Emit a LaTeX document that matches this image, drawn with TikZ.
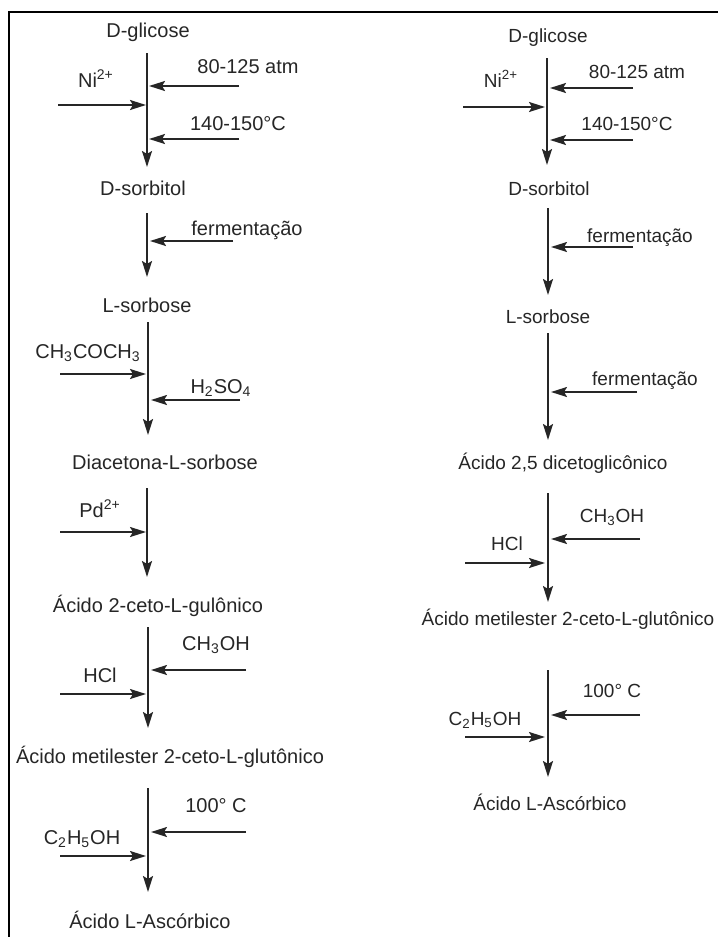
\documentclass[tikz,border=0pt]{standalone}
\usepackage{fontspec}
\setmainfont{Liberation Sans}
\usetikzlibrary{arrows.meta}

\begin{document}
\begin{tikzpicture}[
  x=0.5pt,y=-0.5pt,
  lbl/.style={font=\fontsize{10}{12}\selectfont,text=black!85,inner sep=0pt,text height=7pt,text depth=2pt},
  lblr/.style={lbl,font=\fontsize{9.5}{11.5}\selectfont},
  rxn/.style={draw=black!85,line width=1pt,-{Stealth[length=8pt,width=5pt,inset=1.5pt]}}
]
\useasboundingbox (0,0) rectangle (718,937);
\draw[line width=1.2pt] (9,937) -- (9,12) -- (718,12);

\node[lbl] (glcL) at (148,33) {D-glicose};
\node[lbl] (atmL) at (248,68) {80-125 atm};
\node[lbl] (niL) at (96,82) {Ni\textsuperscript{2+}};
\node[lbl] (tmpL) at (238,125) {140-150°C};
\node[lbl] (sorL) at (143,190) {D-sorbitol};
\node[lbl] (ferL) at (247,230) {fermentação};
\node[lbl] (lsoL) at (147,307) {L-sorbose};
\node[lbl] (aceL) at (88,353) {CH\textsubscript{3}COCH\textsubscript{3}};
\node[lbl] (sulL) at (221,388) {H\textsubscript{2}SO\textsubscript{4}};
\node[lbl] (diaL) at (165,464) {Diacetona-L-sorbose};
\node[lbl] (pdL) at (100,512) {Pd\textsuperscript{2+}};
\node[lbl] (gulL) at (158,607) {Ácido 2-ceto-L-gulônico};
\node[lbl] (mohL) at (216,645) {CH\textsubscript{3}OH};
\node[lbl] (hclL) at (100,677) {HCl};
\node[lbl] (mesL) at (170,758) {Ácido metilester 2-ceto-L-glutônico};
\node[lbl] (hotL) at (216,807) {100° C};
\node[lbl] (etoL) at (82,839) {C\textsubscript{2}H\textsubscript{5}OH};
\node[lbl] (ascL) at (150,923) {Ácido L-Ascórbico};

\node[lblr] (glcR) at (548,37) {D-glicose};
\node[lblr] (atmR) at (637,73) {80-125 atm};
\node[lblr] (niR) at (501,82) {Ni\textsuperscript{2+}};
\node[lblr] (tmpR) at (627,125) {140-150°C};
\node[lblr] (sorR) at (549,190) {D-sorbitol};
\node[lblr] (ferR) at (640,237) {fermentação};
\node[lblr] (lsoR) at (548,318) {L-sorbose};
\node[lblr] (fe2R) at (645,380) {fermentação};
\node[lblr] (dikR) at (563,464) {Ácido 2,5 dicetoglicônico};
\node[lblr] (mohR) at (612,517) {CH\textsubscript{3}OH};
\node[lblr] (hclR) at (507,545) {HCl};
\node[lblr] (mesR) at (568,620) {Ácido metilester 2-ceto-L-glutônico};
\node[lblr] (hotR) at (612,692) {100° C};
\node[lblr] (etoR) at (485,720) {C\textsubscript{2}H\textsubscript{5}OH};
\node[lblr] (ascR) at (550,805) {Ácido L-Ascórbico};

\coordinate (vL1a) at (147,53);  \coordinate (vL1b) at (147,167);
\coordinate (vL2a) at (147,213); \coordinate (vL2b) at (147,277);
\coordinate (vL3a) at (148,322); \coordinate (vL3b) at (148,435);
\coordinate (vL4a) at (147,488); \coordinate (vL4b) at (147,577);
\coordinate (vL5a) at (148,627); \coordinate (vL5b) at (148,728);
\coordinate (vL6a) at (148,788); \coordinate (vL6b) at (148,892);
\coordinate (vR1a) at (547,58);  \coordinate (vR1b) at (547,165);
\coordinate (vR2a) at (548,208); \coordinate (vR2b) at (548,295);
\coordinate (vR3a) at (548,333); \coordinate (vR3b) at (548,440);
\coordinate (vR4a) at (548,493); \coordinate (vR4b) at (548,602);
\coordinate (vR5a) at (548,670); \coordinate (vR5b) at (548,777);

\coordinate (atmLa) at (239,86);  \coordinate (atmLb) at (149,86);
\coordinate (niLa) at (58,105);   \coordinate (niLb) at (146,105);
\coordinate (tmpLa) at (239,139); \coordinate (tmpLb) at (149,139);
\coordinate (ferLa) at (233,241); \coordinate (ferLb) at (150,241);
\coordinate (aceLa) at (60,374);  \coordinate (aceLb) at (146,374);
\coordinate (sulLa) at (240,400); \coordinate (sulLb) at (151,400);
\coordinate (pdLa) at (60,532);   \coordinate (pdLb) at (146,532);
\coordinate (mohLa) at (246,670); \coordinate (mohLb) at (151,670);
\coordinate (hclLa) at (60,694);  \coordinate (hclLb) at (146,694);
\coordinate (hotLa) at (246,832); \coordinate (hotLb) at (151,832);
\coordinate (etoLa) at (60,856);  \coordinate (etoLb) at (146,856);

\coordinate (atmRa) at (633,88);  \coordinate (atmRb) at (550,88);
\coordinate (niRa) at (463,107);  \coordinate (niRb) at (545,107);
\coordinate (tmpRa) at (633,140); \coordinate (tmpRb) at (550,140);
\coordinate (ferRa) at (633,247); \coordinate (ferRb) at (551,247);
\coordinate (fe2Ra) at (637,392); \coordinate (fe2Rb) at (551,392);
\coordinate (mohRa) at (640,539); \coordinate (mohRb) at (551,539);
\coordinate (hclRa) at (465,563); \coordinate (hclRb) at (545,563);
\coordinate (hotRa) at (640,715); \coordinate (hotRb) at (551,715);
\coordinate (etoRa) at (465,737); \coordinate (etoRb) at (545,737);

\draw[rxn] (vL1a) -- (vL1b);
\draw[rxn] (vL2a) -- (vL2b);
\draw[rxn] (vL3a) -- (vL3b);
\draw[rxn] (vL4a) -- (vL4b);
\draw[rxn] (vL5a) -- (vL5b);
\draw[rxn] (vL6a) -- (vL6b);
\draw[rxn] (vR1a) -- (vR1b);
\draw[rxn] (vR2a) -- (vR2b);
\draw[rxn] (vR3a) -- (vR3b);
\draw[rxn] (vR4a) -- (vR4b);
\draw[rxn] (vR5a) -- (vR5b);

\draw[rxn] (atmLa) -- (atmLb);
\draw[rxn] (niLa) -- (niLb);
\draw[rxn] (tmpLa) -- (tmpLb);
\draw[rxn] (ferLa) -- (ferLb);
\draw[rxn] (aceLa) -- (aceLb);
\draw[rxn] (sulLa) -- (sulLb);
\draw[rxn] (pdLa) -- (pdLb);
\draw[rxn] (mohLa) -- (mohLb);
\draw[rxn] (hclLa) -- (hclLb);
\draw[rxn] (hotLa) -- (hotLb);
\draw[rxn] (etoLa) -- (etoLb);

\draw[rxn] (atmRa) -- (atmRb);
\draw[rxn] (niRa) -- (niRb);
\draw[rxn] (tmpRa) -- (tmpRb);
\draw[rxn] (ferRa) -- (ferRb);
\draw[rxn] (fe2Ra) -- (fe2Rb);
\draw[rxn] (mohRa) -- (mohRb);
\draw[rxn] (hclRa) -- (hclRb);
\draw[rxn] (hotRa) -- (hotRb);
\draw[rxn] (etoRa) -- (etoRb);
\end{tikzpicture}
\end{document}
